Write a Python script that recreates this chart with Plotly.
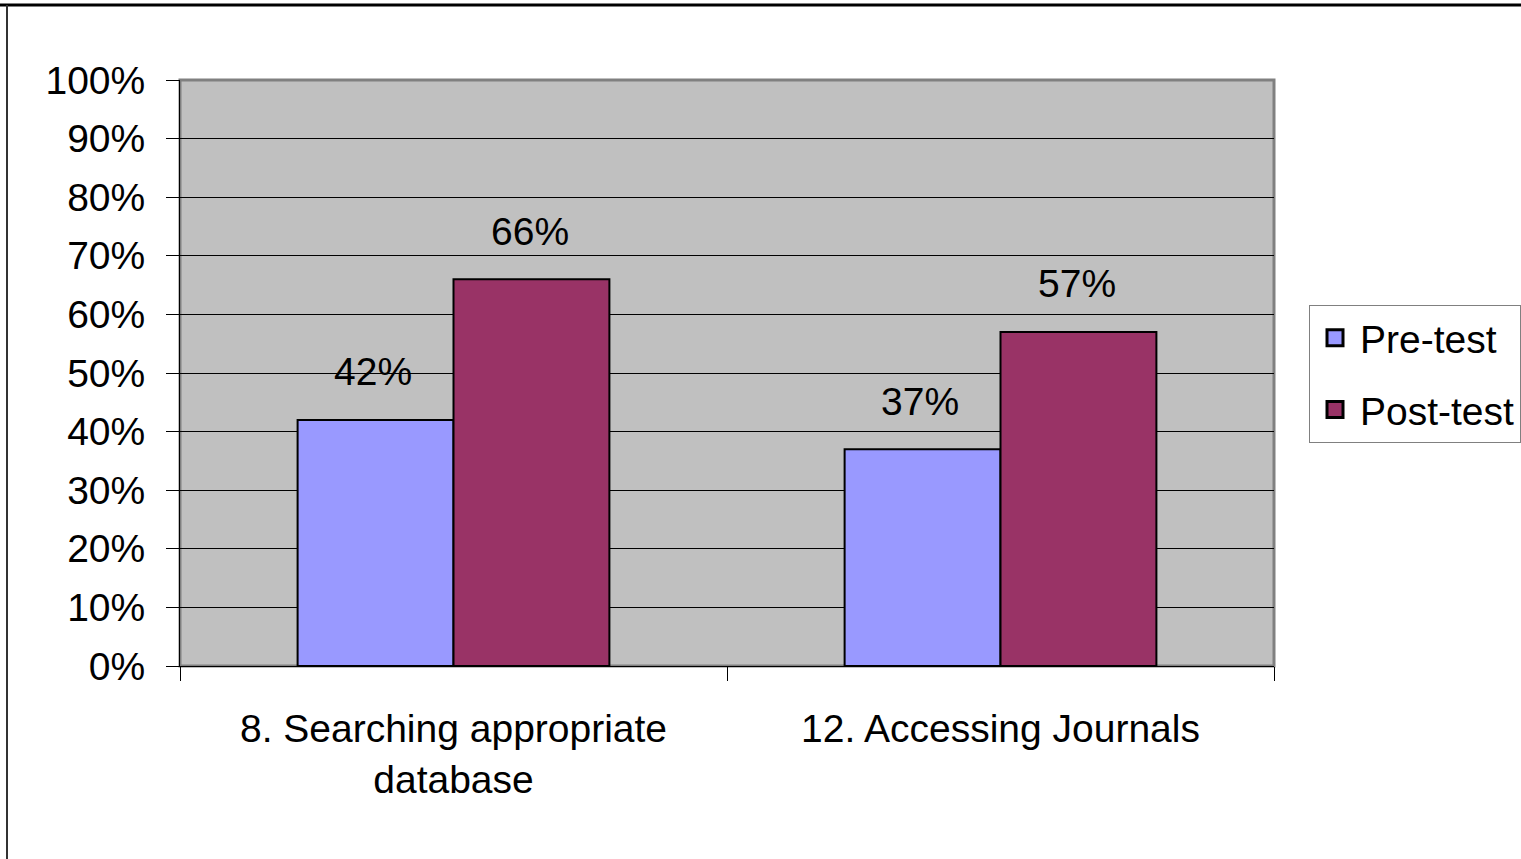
import plotly.graph_objects as go

categories = ["8. Searching appropriate<br>database", "12. Accessing Journals"]
series_names = ["Pre-test", "Post-test"]
pre_test = [0.42, 0.37]
post_test = [0.66, 0.57]
colors = ["#9999FF", "#993366"]

FONT = "Liberation Sans, Arial, sans-serif"
FS = 39

fig = go.Figure()
for name, vals, col in zip(series_names, [pre_test, post_test], colors):
    fig.add_trace(go.Bar(
        x=categories, y=vals, name=name, showlegend=False,
        marker=dict(color=col, line=dict(color="black", width=2)),
        hoverinfo="skip",
    ))
    # legend entry with a larger square swatch
    fig.add_trace(go.Scatter(
        x=[None], y=[None], mode="markers", name=name, legendgroup=name,
        marker=dict(symbol="square", size=22, color=col,
                    line=dict(color="black", width=3)),
    ))

# value labels above each bar
half = 157 / 2
for vals, shift in [(pre_test, -half), (post_test, half)]:
    for cat, v in zip(categories, vals):
        fig.add_annotation(x=cat, y=v, text=f"{round(v*100)}%", showarrow=False,
                           xshift=shift - 2, yshift=48, yanchor="middle",
                           font=dict(family=FONT, size=FS, color="black"))

# outer frame lines (top and left edges)
fig.add_shape(type="line", xref="paper", yref="paper",
              x0=-180/1094, x1=(1521-180)/1094, y0=(666-5)/586, y1=(666-5)/586,
              line=dict(color="black", width=3))
fig.add_shape(type="line", xref="paper", yref="paper",
              x0=-173/1094, x1=-173/1094, y0=(666-5)/586, y1=(666-860)/586,
              line=dict(color="#333333", width=2))
# plot-area border
fig.add_shape(type="rect", xref="paper", yref="paper", x0=0, x1=1, y0=0, y1=1,
              line=dict(color="#808080", width=3), layer="below")

fig.update_layout(
    width=1521, height=859,
    margin=dict(l=180, r=247, t=80, b=193, autoexpand=False),
    paper_bgcolor="white", plot_bgcolor="#C0C0C0",
    barmode="group", bargap=0.43, bargroupgap=0,
    font=dict(family=FONT, size=FS, color="black"),
    legend=dict(x=1.032, y=0.616, xanchor="left", yanchor="top",
                bordercolor="#808080", borderwidth=1, bgcolor="white",
                traceorder="grouped", tracegroupgap=18, itemwidth=40,
                font=dict(family=FONT, size=FS, color="black")),
    xaxis=dict(showline=True, linecolor="black", linewidth=1,
               ticks="outside", tickson="boundaries", ticklen=14,
               tickcolor="black", tickwidth=1, showgrid=False,
               ticklabelstandoff=28,
               tickfont=dict(family=FONT, size=FS, color="black")),
    yaxis=dict(range=[0, 1], dtick=0.1, tickformat=".0%",
               showline=True, linecolor="black", linewidth=1,
               ticks="outside", ticklen=13, tickcolor="black", tickwidth=1,
               showgrid=True, gridcolor="black", gridwidth=1,
               zeroline=False, ticklabelstandoff=13,
               tickfont=dict(family=FONT, size=FS, color="black")),
)

fig.write_html("out.html")
